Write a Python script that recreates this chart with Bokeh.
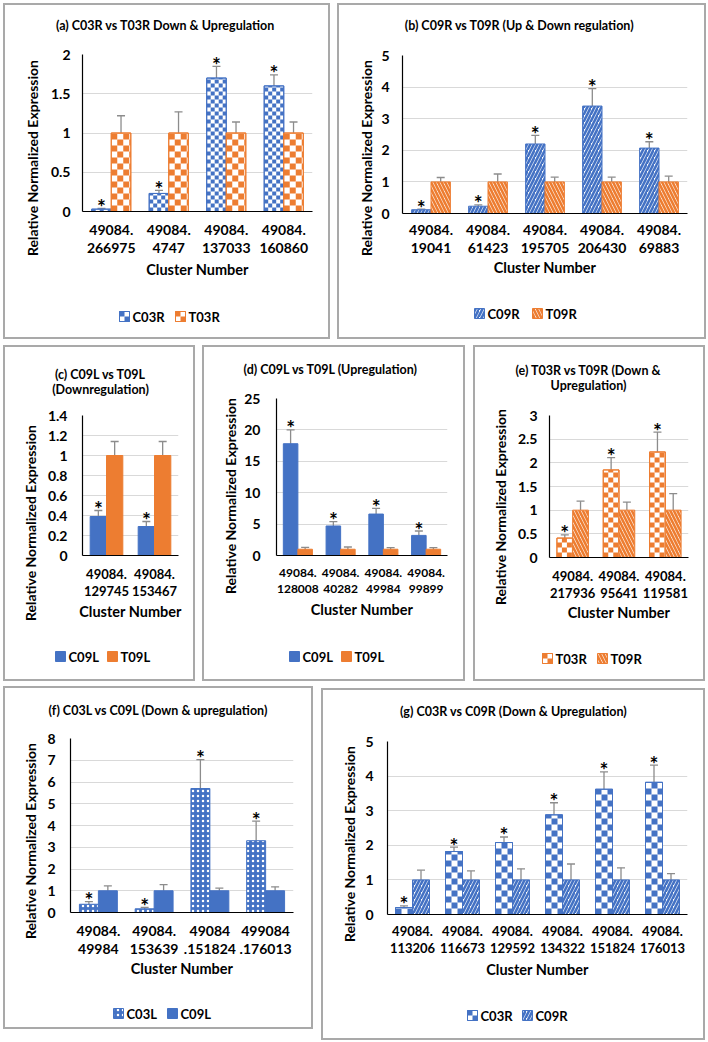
import math
from bokeh.plotting import figure
from bokeh.models import (FactorRange, Range1d, FixedTicker, NumeralTickFormatter, Whisker, TeeHead,
                          ColumnDataSource, Label, Title)
from bokeh.layouts import row, column
from bokeh.transform import dodge
from bokeh.core.properties import value
from bokeh.embed import file_html
from bokeh.resources import INLINE

# ---------------- data ----------------
a_cats = ["49084.\n266975", "49084.\n4747", "49084.\n137033", "49084.\n160860"]
a_c03r = [0.03, 0.23, 1.70, 1.60]
a_c03r_err = [0.01, 0.04, 0.15, 0.14]
a_t03r = [1.0, 1.0, 1.0, 1.0]
a_t03r_err = [0.22, 0.27, 0.14, 0.14]
a_yticks = [0, 0.5, 1, 1.5, 2]

b_cats = ["49084.\n19041", "49084.\n61423", "49084.\n195705", "49084.\n206430", "49084.\n69883"]
b_c09r = [0.12, 0.23, 2.20, 3.40, 2.07]
b_c09r_err = [0.02, 0.04, 0.27, 0.55, 0.20]
b_t09r = [1.0, 1.0, 1.0, 1.0, 1.0]
b_t09r_err = [0.14, 0.25, 0.15, 0.15, 0.18]
b_yticks = [0, 1, 2, 3, 4, 5]

c_cats = ["49084.\n129745", "49084.\n153467"]
c_c09l = [0.39, 0.29]
c_c09l_err = [0.06, 0.05]
c_t09l = [1.0, 1.0]
c_t09l_err = [0.14, 0.14]
c_yticks = [0, 0.2, 0.4, 0.6, 0.8, 1, 1.2, 1.4]

d_cats = ["49084.\n128008", "49084.\n40282", "49084.\n49984", "49084.\n99899"]
d_c09l = [17.8, 4.7, 6.6, 3.2]
d_c09l_err = [2.2, 0.7, 0.9, 0.7]
d_t09l = [1.0, 1.0, 1.0, 1.0]
d_t09l_err = [0.30, 0.35, 0.25, 0.25]
d_yticks = [0, 5, 10, 15, 20, 25]

e_cats = ["49084.\n217936", "49084.\n95641", "49084.\n119581"]
e_t03r = [0.41, 1.85, 2.23]
e_t03r_err = [0.07, 0.26, 0.42]
e_t09r = [1.0, 1.0, 1.0]
e_t09r_err = [0.19, 0.17, 0.35]
e_yticks = [0, 0.5, 1, 1.5, 2, 2.5, 3]

f_cats = ["49084.\n49984", "49084.\n153639", "49084\n.151824", "499084\n.176013"]
f_c03l = [0.38, 0.17, 5.70, 3.30]
f_c03l_err = [0.12, 0.07, 1.33, 0.90]
f_c09l = [1.0, 1.0, 1.0, 1.0]
f_c09l_err = [0.22, 0.28, 0.12, 0.18]
f_yticks = [0, 1, 2, 3, 4, 5, 6, 7, 8]

g_cats = ["49084.\n113206", "49084.\n116673", "49084.\n129592", "49084.\n134322", "49084.\n151824", "49084.\n176013"]
g_c03r = [0.20, 1.82, 2.08, 2.88, 3.62, 3.82]
g_c03r_err = [0.05, 0.13, 0.16, 0.35, 0.50, 0.50]
g_c09r = [1.0, 1.0, 1.0, 1.0, 1.0, 1.0]
g_c09r_err = [0.28, 0.26, 0.32, 0.46, 0.35, 0.18]
g_yticks = [0, 1, 2, 3, 4, 5]

# ---------------- styles ----------------
BLUE = "#4472C4"
ORANGE = "#ED7D31"
ERR = "#8c8c8c"
GRID = "#d9d9d9"
BOXC = "#a9a9a9"
FONT = "Lato"
HALF = 0.17          # half bar width (category units)
YLAB_PX = 14         # y-axis title font size (px)
YLAB_LEN = 13.79 * YLAB_PX   # estimated rendered length of the y-axis title
DIGIT = 0.58         # approx. Lato Bold digit advance (em)
DOT = 0.23


def tick_w(t, size=14):
    s = "%g" % t
    return sum(DOT if ch == "." else DIGIT for ch in s) * size


def aux_fig(w, h, xr, yr):
    f = figure(width=w, height=h, x_range=Range1d(*xr), y_range=Range1d(*yr),
               output_backend="svg", toolbar_location=None, min_border=0,
               x_axis_type=None, y_axis_type=None)
    f.outline_line_color = None
    return f


def style_kwargs(kind):
    t = kind[0]
    col = kind[1]
    if t == "solid":
        return dict(fill_color=col, line_color=col)
    if t == "diag":
        return dict(fill_color="white", line_color=col, hatch_pattern=kind[2], hatch_color=col,
                    hatch_weight=2.6, hatch_scale=7)
    if t == "dots":
        return dict(fill_color=col, line_color=col, hatch_pattern=".", hatch_color="white",
                    hatch_scale=5, hatch_weight=1)
    return dict(fill_color="white", line_color=col)  # checker base


def checker_cells(lefts, rights, bottoms, tops, dx, dy):
    L, R, B, T = [], [], [], []
    for x0, x1, y0, y1 in zip(lefts, rights, bottoms, tops):
        r = 0
        y = y0
        while y < y1 - 1e-9:
            yt = min(y + dy, y1)
            c = 0
            x = x0
            while x < x1 - 1e-9:
                xr = min(x + dx, x1)
                if (r + c) % 2 == 0:
                    L.append(x); R.append(xr); B.append(y); T.append(yt)
                x += dx
                c += 1
            y += dy
            r += 1
    return dict(left=L, right=R, bottom=B, top=T)


def build(cats, series, yticks, box, frame, titles, ylab, tick_right, xline1, xlab_y,
          leg_y, leg_x, margin, xtick=13):
    bx0, by0, bx1, by1 = box
    ix0, iy0, ix1, iy1 = bx0 + 2, by0 + 2, bx1 - 2, by1 - 2
    fl, ft, fr, fb = frame
    top_split = ft - 10
    bot_split = xlab_y + 12
    n = len(cats)
    ymax = yticks[-1]

    # ---- title strip ----
    tf = aux_fig(ix1 - ix0, top_split - iy0, (ix0, ix1), (top_split, iy0))
    for (tx, ty, tt) in titles:
        tf.add_layout(Label(x=tx, y=ty, text=tt, text_align="center", text_baseline="middle",
                            text_font=FONT, text_font_style="bold", text_font_size="12.5px",
                            text_color="black"))

    # ---- main plot ----
    mf = figure(width=ix1 - ix0, height=bot_split - top_split,
                x_range=FactorRange(factors=cats), y_range=Range1d(0, ymax),
                output_backend="svg", toolbar_location=None,
                min_border_left=fl - ix0, min_border_right=ix1 - fr,
                min_border_top=ft - top_split, min_border_bottom=bot_split - fb)
    mf.outline_line_color = None
    mf.xgrid.visible = False
    mf.ygrid.grid_line_color = GRID
    ya = mf.yaxis[0]
    ya.ticker = FixedTicker(ticks=yticks)
    ya.formatter = NumeralTickFormatter(format="0.[0]")
    ya.axis_line_color = "black"
    ya.axis_line_width = 1.2
    ya.major_tick_line_color = None
    ya.minor_tick_line_color = None
    ya.major_tick_out = 0
    ya.major_tick_in = 0
    ya.major_label_standoff = fl - tick_right
    ya.major_label_text_font = FONT
    ya.major_label_text_font_style = "bold"
    ya.major_label_text_font_size = "14px"
    ya.major_label_text_color = "black"
    xa = mf.xaxis[0]
    xa.axis_line_color = "black"
    xa.axis_line_width = 1.2
    xa.major_tick_line_color = None
    xa.minor_tick_line_color = None
    xa.major_tick_out = 0
    xa.major_tick_in = 0
    xa.major_label_text_font = FONT
    xa.major_label_text_font_style = "bold"
    xa.major_label_text_font_size = f"{xtick}px"
    xa.major_label_text_color = "black"
    xa.major_label_text_line_height = 1.1
    line_adv = xtick * 1.2 * 1.1
    st = max(0, int(round(xline1 - fb - 1 - line_adv / 2)))
    xa.major_label_standoff = st
    xa.axis_label = "Cluster Number"
    xa.axis_label_text_font = FONT
    xa.axis_label_text_font_style = "bold"
    xa.axis_label_text_font_size = "14.5px"
    xa.axis_label_text_color = "black"
    xa.axis_label_standoff = max(0, int(round(xlab_y - (fb + st + 2 + 2 * line_adv) - 11)))

    # y-axis title, placed in the left side panel next to the tick labels
    axis_w = (fl - tick_right) + max(tick_w(t) for t in yticks)
    so = max(0, int(round(2 * (fl - axis_w - 0.6 * YLAB_PX - ylab[0]))))
    mf.add_layout(Title(text="Relative Normalized Expression", align="left",
                        vertical_align="bottom", standoff=so,
                        offset=fb - ylab[1] - YLAB_LEN / 2,
                        text_font=FONT, text_font_style="bold",
                        text_font_size=f"{YLAB_PX}px", text_color="black"), "left")

    offs = [-HALF, HALF]
    fw = fr - fl
    fh = fb - ft
    data = dict(cat=cats)
    for k, (name, vals, errs, kind) in enumerate(series):
        data[f"v{k}"] = vals
        data[f"up{k}"] = [v + e for v, e in zip(vals, errs)]
        data[f"lo{k}"] = [v - e for v, e in zip(vals, errs)]
    src = ColumnDataSource(data)
    for k, (name, vals, errs, kind) in enumerate(series):
        kw = style_kwargs(kind)
        mf.vbar(x=dodge("cat", offs[k], range=mf.x_range), top=f"v{k}", bottom=0,
                width=2 * HALF, source=src, line_width=1, **kw)
        if kind[0] == "checker":
            s = kind[2]
            centers = [i + 0.5 + offs[k] for i in range(n)]
            cells = checker_cells([c - HALF for c in centers], [c + HALF for c in centers],
                                  [0.0] * n, vals, s * n / fw, s * ymax / fh)
            mf.quad(source=ColumnDataSource(cells), left="left", right="right", bottom="bottom",
                    top="top", fill_color=kind[1], line_color=None)
            mf.vbar(x=dodge("cat", offs[k], range=mf.x_range), top=f"v{k}", bottom=0,
                    width=2 * HALF, source=src, fill_alpha=0, line_color=kind[1], line_width=1)
    for k, (name, vals, errs, kind) in enumerate(series):
        mf.add_layout(Whisker(base=dodge("cat", offs[k], range=mf.x_range), upper=f"up{k}",
                              lower=f"lo{k}", source=src, line_color=ERR, line_width=1.3,
                              upper_head=TeeHead(size=8, line_color=ERR, line_width=1.3),
                              lower_head=TeeHead(size=8, line_color=ERR, line_width=1.3)))
    mf.text(x=dodge("cat", offs[0], range=mf.x_range), y="up0", text=value("*"), source=src,
            text_font=value(FONT), text_font_style="bold", text_font_size="21px",
            text_align="center", text_baseline="alphabetic", y_offset=-2, text_color="black")

    # ---- legend strip ----
    lf = aux_fig(ix1 - ix0, iy1 - bot_split, (ix0, ix1), (iy1, bot_split))
    for k, (name, vals, errs, kind) in enumerate(series):
        sx = leg_x[k]
        sw = dict(left=[sx], right=[sx + 10], top=[leg_y - 5], bottom=[leg_y + 5])
        kw = style_kwargs(kind)
        lf.quad(source=ColumnDataSource(sw), left="left", right="right", top="top",
                bottom="bottom", line_width=1, **kw)
        if kind[0] == "checker":
            cells = dict(left=[sx, sx + 5], right=[sx + 5, sx + 10],
                         top=[leg_y - 5, leg_y], bottom=[leg_y, leg_y + 5])
            lf.quad(source=ColumnDataSource(cells), left="left", right="right", top="top",
                    bottom="bottom", fill_color=kind[1], line_color=None)
            lf.quad(source=ColumnDataSource(sw), left="left", right="right", top="top",
                    bottom="bottom", fill_alpha=0, line_color=kind[1], line_width=1)
        lf.add_layout(Label(x=sx + 13, y=leg_y, text=name, text_align="left",
                            text_baseline="middle", text_font=FONT, text_font_style="bold",
                            text_font_size="13px", text_color="black"))

    return column(tf, row(mf), lf, margin=margin,
                  styles={"outline": f"2px solid {BOXC}"})


pa = build(a_cats,
           [("C03R", a_c03r, a_c03r_err, ("checker", BLUE, 4)),
            ("T03R", a_t03r, a_t03r_err, ("checker", ORANGE, 6))],
           a_yticks, (3, 3, 330, 339), (82, 54, 312, 211),
           [(165, 25, "(a) C03R vs T03R Down & Upregulation")], (35, 159), 70, 230, 272,
           316, (119, 175), (5, 0, 0, 5), xtick=14)

pb = build(b_cats,
           [("C09R", b_c09r, b_c09r_err, ("diag", BLUE, "/")),
            ("T09R", b_t09r, b_t09r_err, ("diag", ORANGE, "\\"))],
           b_yticks, (337, 3, 706, 339), (402, 55, 687, 213),
           [(519, 25, "(b) C09R vs T09R (Up & Down regulation)")], (369, 159), 389, 230, 270,
           313, (474, 532), (5, 0, 0, 11), xtick=14)

pc = build(c_cats,
           [("C09L", c_c09l, c_c09l_err, ("solid", BLUE)),
            ("T09L", c_t09l, c_t09l_err, ("solid", ORANGE))],
           c_yticks, (3, 345, 195, 681), (82, 415, 178, 555),
           [(100, 374, "(c) C09L vs T09L"), (100, 389, "(Downregulation)")], (33, 524), 67,
           575, 613, 656, (55, 107), (10, 0, 0, 5))

pd_ = build(d_cats,
            [("C09L", d_c09l, d_c09l_err, ("solid", BLUE)),
             ("T09L", d_t09l, d_t09l_err, ("solid", ORANGE))],
            d_yticks, (202, 345, 465, 681), (276, 398, 447, 555),
            [(332, 369, "(d) C09L vs T09L  (Upregulation)")], (233, 497), 260, 573, 611,
            656, (289, 341), (10, 0, 0, 11), xtick=12)

pe = build(e_cats,
           [("T03R", e_t03r, e_t03r_err, ("checker", ORANGE, 5)),
            ("T09R", e_t09r, e_t09r_err, ("diag", ORANGE, "\\"))],
           e_yticks, (473, 345, 705, 681), (549, 415, 688, 557),
           [(588, 370, "(e) T03R vs T09R (Down &"), (588, 385, "Upregulation)")], (503, 508),
           537, 577, 614, 658, (542, 597), (10, 0, 0, 12))

pf = build(f_cats,
           [("C03L", f_c03l, f_c03l_err, ("dots", BLUE)),
            ("C09L", f_c09l, f_c09l_err, ("solid", BLUE))],
           f_yticks, (3, 686, 313, 1029), (70, 738, 293, 912),
           [(158, 710, "(f) C03L vs C09L (Down & upregulation)")], (33, 842), 55, 931, 970,
           1013, (113, 167), (9, 0, 0, 5), xtick=14)

pg = build(g_cats,
           [("C03R", g_c03r, g_c03r_err, ("checker", BLUE, 6)),
            ("C09R", g_c09r, g_c09r_err, ("diag", BLUE, "/"))],
           g_yticks, (321, 688, 705, 1040), (387, 741, 687, 914),
           [(513, 711, "(g) C03R vs C09R (Down & Upregulation)")], (352, 845), 373, 932, 971,
           1015, (467, 522), (11, 0, 0, 12))

root = column(row(pa, pb), row(pc, pd_, pe), row(pf, pg))

open("out.html", "w").write(file_html(root, INLINE))
